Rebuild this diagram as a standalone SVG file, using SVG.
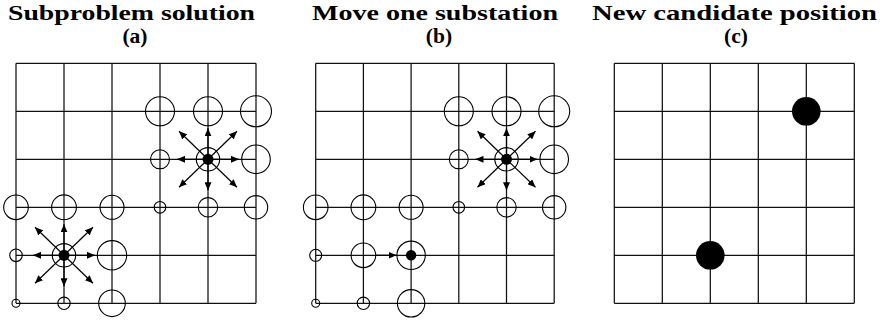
<svg xmlns="http://www.w3.org/2000/svg" width="882" height="322" viewBox="0 0 882 322">
<style>
.title{font-weight:bold;font-size:21.5px;fill:#000}
.grid{fill:none;stroke:#111;stroke-width:1.25}
.c{fill:none;stroke:#000;stroke-width:1.1}
.dot{fill:#000;stroke:none}
.arr{stroke:#000;stroke-width:1.2;fill:none;marker-end:url(#ah)}
</style>
<defs>
<marker id="ah" viewBox="0 0 8 7" refX="8" refY="3.5" markerWidth="8" markerHeight="7" markerUnits="userSpaceOnUse" orient="auto">
<path d="M0,0 L8,3.5 L0,7 z" fill="#000"/>
</marker>
</defs>
<rect width="882" height="322" fill="#fff"/>

<g id="titles" font-family="'Liberation Serif', 'DejaVu Serif', 'Times New Roman', serif">
<text class="title" x="8" y="20" textLength="247" lengthAdjust="spacingAndGlyphs">Subproblem solution</text>
<text class="title" x="135" y="42.5" text-anchor="middle">(a)</text>
<text class="title" x="312" y="20" textLength="246" lengthAdjust="spacingAndGlyphs">Move one substation</text>
<text class="title" x="439" y="42.5" text-anchor="middle">(b)</text>
<text class="title" x="592" y="20" textLength="285" lengthAdjust="spacingAndGlyphs">New candidate position</text>
<text class="title" x="736" y="42.5" text-anchor="middle">(c)</text>
</g>

<g id="grids">
<path class="grid" d="M16,63.3V303.3 M64,63.3V303.3 M112,63.3V303.3 M160,63.3V303.3 M208,63.3V303.3 M256,63.3V303.3 M16,63.3H256 M16,111.3H256 M16,159.3H256 M16,207.3H256 M16,255.3H256 M16,303.3H256"/>
<path class="grid" d="M315.7,63.3V303.3 M363.4,63.3V303.3 M411.1,63.3V303.3 M458.8,63.3V303.3 M506.5,63.3V303.3 M554.2,63.3V303.3 M315.7,63.3H554.2 M315.7,111.3H554.2 M315.7,159.3H554.2 M315.7,207.3H554.2 M315.7,255.3H554.2 M315.7,303.3H554.2"/>
<path class="grid" d="M614.3,63.3V303.3 M662.3,63.3V303.3 M710.3,63.3V303.3 M758.3,63.3V303.3 M806.3,63.3V303.3 M854.3,63.3V303.3 M614.3,63.3H854.3 M614.3,111.3H854.3 M614.3,159.3H854.3 M614.3,207.3H854.3 M614.3,255.3H854.3 M614.3,303.3H854.3"/>
</g>

<g id="connectors">
<line class="arr" x1="208" y1="159.3" x2="208" y2="128.3"/>
<line class="arr" x1="208" y1="159.3" x2="208" y2="190.3"/>
<line class="arr" x1="208" y1="159.3" x2="177" y2="159.3"/>
<line class="arr" x1="208" y1="159.3" x2="239" y2="159.3"/>
<line class="arr" x1="208" y1="159.3" x2="179" y2="131.3"/>
<line class="arr" x1="208" y1="159.3" x2="237" y2="131.3"/>
<line class="arr" x1="208" y1="159.3" x2="179" y2="187.3"/>
<line class="arr" x1="208" y1="159.3" x2="237" y2="187.3"/>
<line class="arr" x1="64" y1="255.3" x2="64" y2="224.3"/>
<line class="arr" x1="64" y1="255.3" x2="64" y2="286.3"/>
<line class="arr" x1="64" y1="255.3" x2="33" y2="255.3"/>
<line class="arr" x1="64" y1="255.3" x2="95" y2="255.3"/>
<line class="arr" x1="64" y1="255.3" x2="35" y2="227.3"/>
<line class="arr" x1="64" y1="255.3" x2="93" y2="227.3"/>
<line class="arr" x1="64" y1="255.3" x2="35" y2="283.3"/>
<line class="arr" x1="64" y1="255.3" x2="93" y2="283.3"/>
<line class="arr" x1="506.5" y1="159.3" x2="506.5" y2="128.3"/>
<line class="arr" x1="506.5" y1="159.3" x2="506.5" y2="190.3"/>
<line class="arr" x1="506.5" y1="159.3" x2="475.5" y2="159.3"/>
<line class="arr" x1="506.5" y1="159.3" x2="537.5" y2="159.3"/>
<line class="arr" x1="506.5" y1="159.3" x2="477.5" y2="131.3"/>
<line class="arr" x1="506.5" y1="159.3" x2="535.5" y2="131.3"/>
<line class="arr" x1="506.5" y1="159.3" x2="477.5" y2="187.3"/>
<line class="arr" x1="506.5" y1="159.3" x2="535.5" y2="187.3"/>
<line class="arr" x1="376" y1="255.3" x2="396.5" y2="255.3"/>
</g>

<g id="panel-a">
<g id="a-n13"><circle class="c" cx="160" cy="111.3" r="14.5"/></g>
<g id="a-n14"><circle class="c" cx="208" cy="111.3" r="14.5"/></g>
<g id="a-n15"><circle class="c" cx="256" cy="111.3" r="15.5"/></g>
<g id="a-n23"><circle class="c" cx="160" cy="159.3" r="9.5"/></g>
<g id="a-n24"><circle class="c" cx="208" cy="159.3" r="11.7"/><circle class="dot" cx="208" cy="159.3" r="5.5"/></g>
<g id="a-n25"><circle class="c" cx="256" cy="159.3" r="14.3"/></g>
<g id="a-n30"><circle class="c" cx="16" cy="207.3" r="12.3"/></g>
<g id="a-n31"><circle class="c" cx="64" cy="207.3" r="12.4"/></g>
<g id="a-n32"><circle class="c" cx="112" cy="207.3" r="12"/></g>
<g id="a-n33"><circle class="c" cx="160" cy="207.3" r="5.8"/></g>
<g id="a-n34"><circle class="c" cx="208" cy="207.3" r="9.7"/></g>
<g id="a-n35"><circle class="c" cx="256" cy="207.3" r="11.7"/></g>
<g id="a-n40"><circle class="c" cx="16" cy="255.3" r="6.3"/></g>
<g id="a-n41"><circle class="c" cx="64" cy="255.3" r="11.7"/><circle class="dot" cx="64" cy="255.3" r="5.5"/></g>
<g id="a-n42"><circle class="c" cx="112" cy="255.3" r="14.7"/></g>
<g id="a-n50"><circle class="c" cx="16" cy="303.3" r="4"/></g>
<g id="a-n51"><circle class="c" cx="64" cy="303.3" r="6.2"/></g>
<g id="a-n52"><circle class="c" cx="112" cy="303.3" r="13.3"/></g>
</g>

<g id="panel-b">
<g id="b-n13"><circle class="c" cx="458.8" cy="111.3" r="14.5"/></g>
<g id="b-n14"><circle class="c" cx="506.5" cy="111.3" r="14.5"/></g>
<g id="b-n15"><circle class="c" cx="554.2" cy="111.3" r="15.5"/></g>
<g id="b-n23"><circle class="c" cx="458.8" cy="159.3" r="9.5"/></g>
<g id="b-n24"><circle class="c" cx="506.5" cy="159.3" r="11.7"/><circle class="dot" cx="506.5" cy="159.3" r="5.5"/></g>
<g id="b-n25"><circle class="c" cx="554.2" cy="159.3" r="14.3"/></g>
<g id="b-n30"><circle class="c" cx="315.7" cy="207.3" r="12.3"/></g>
<g id="b-n31"><circle class="c" cx="363.4" cy="207.3" r="12.4"/></g>
<g id="b-n32"><circle class="c" cx="411.1" cy="207.3" r="12"/></g>
<g id="b-n33"><circle class="c" cx="458.8" cy="207.3" r="5.8"/></g>
<g id="b-n34"><circle class="c" cx="506.5" cy="207.3" r="9.7"/></g>
<g id="b-n35"><circle class="c" cx="554.2" cy="207.3" r="11.7"/></g>
<g id="b-n40"><circle class="c" cx="315.7" cy="255.3" r="6"/></g>
<g id="b-n41"><circle class="c" cx="363.4" cy="255.3" r="12.3"/></g>
<g id="b-n42"><circle class="c" cx="411.1" cy="255.3" r="14.2"/><circle class="dot" cx="411.1" cy="255.3" r="5.2"/></g>
<g id="b-n50"><circle class="c" cx="315.7" cy="303.3" r="4"/></g>
<g id="b-n51"><circle class="c" cx="363.4" cy="303.3" r="6.2"/></g>
<g id="b-n52"><circle class="c" cx="411.1" cy="303.3" r="13.7"/></g>
</g>

<g id="panel-c">
<g id="c-n14"><circle class="dot" cx="806.3" cy="111.3" r="14.3"/></g>
<g id="c-n42"><circle class="dot" cx="710.3" cy="255.3" r="14.3"/></g>
</g>
</svg>
